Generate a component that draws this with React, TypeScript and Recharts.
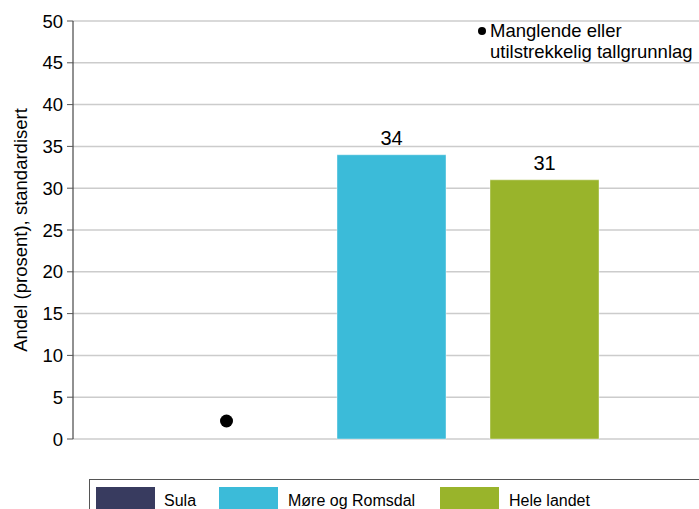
import { ComposedChart, Bar, Scatter, XAxis, YAxis, CartesianGrid, Cell, LabelList } from "recharts";

// kategorier og verdier lest av figuren (Sula: manglende tallgrunnlag)
const categories = ["Sula", "Møre og Romsdal", "Hele landet"];
const values: (number | null)[] = [null, 34, 31];
const missing = [true, false, false];
const colors = ["#383b5f", "#3bbbd9", "#99b42b"];
const yTicks = [0, 5, 10, 15, 20, 25, 30, 35, 40, 45, 50];

const data = categories.map((name, i) => ({
  name,
  value: values[i],
  marker: missing[i] ? 0 : null,
}));

const FONT = "'Liberation Sans', Arial, sans-serif";

const BarLabel = (props: any) => {
  const { x, y, width, value } = props;
  if (value == null) return null;
  return (
    <text x={x + width / 2} y={y - 9.5} textAnchor="middle" fontSize={20} fill="#000" fontFamily={FONT}>
      {value}
    </text>
  );
};

// svart prikk = manglende eller utilstrekkelig tallgrunnlag
const MissingDot = (props: any) => {
  const { cx, cy } = props;
  if (cx == null || cy == null) return null;
  return <circle cx={cx - 12} cy={cy - 18} r={6.5} fill="#000" />;
};

const YLabel = () => (
  <text
    x={20}
    y={230}
    transform="rotate(-90 20 230)"
    textAnchor="middle"
    dominantBaseline="central"
    fontSize={18.5}
    fill="#000"
    fontFamily={FONT}
  >
    Andel (prosent), standardisert
  </text>
);

const legendSwatchX = [6, 129, 350];
const legendTextX = [74, 198, 419];

export default function App() {
  return (
    <div style={{ position: "absolute", left: 0, top: 0, width: 699, height: 509, overflow: "hidden", background: "#fff" }}>
      <ComposedChart
        width={699}
        height={509}
        data={data}
        margin={{ top: 21, right: 0, bottom: 70, left: 0 }}
        barCategoryGap={22}
      >
        <CartesianGrid vertical={false} stroke="#cccccc" strokeWidth={1.5} />
        <XAxis
          dataKey="name"
          tick={false}
          tickLine={false}
          height={0}
          axisLine={{ stroke: "#555", strokeWidth: 1.5 }}
          padding={{ left: 89, right: 78 }}
        />
        <YAxis
          width={73}
          domain={[0, 50]}
          ticks={yTicks}
          interval={0}
          tick={{ fill: "#000", fontSize: 18.5, fontFamily: FONT }}
          tickLine={{ stroke: "#555" }}
          tickSize={6}
          tickMargin={4}
          axisLine={{ stroke: "#222" }}
          label={<YLabel />}
        />
        <Bar dataKey="value" isAnimationActive={false} stroke="rgba(255,255,255,0.4)">
          {data.map((d, i) => (
            <Cell key={d.name} fill={colors[i]} />
          ))}
          <LabelList dataKey="value" content={<BarLabel />} />
        </Bar>
        <Scatter dataKey="marker" isAnimationActive={false} shape={<MissingDot />} />
        <circle cx={482} cy={31} r={4} fill="#000" />
        <text x={490} y={37} fontSize={18.5} fill="#000" fontFamily={FONT}>
          Manglende eller
        </text>
        <text x={490} y={58} fontSize={18.5} fill="#000" fontFamily={FONT}>
          utilstrekkelig tallgrunnlag
        </text>
      </ComposedChart>
      <div
        style={{
          position: "absolute",
          left: 89,
          top: 479,
          width: 640,
          height: 44,
          border: "1px solid #555",
          boxSizing: "border-box",
          fontFamily: FONT,
          fontSize: 16,
          color: "#000",
          background: "#fff",
        }}
      >
        {categories.map((c, i) => (
          <div key={c}>
            <div
              style={{ position: "absolute", left: legendSwatchX[i], top: 7, width: 59, height: 24, background: colors[i] }}
            />
            <span style={{ position: "absolute", left: legendTextX[i], top: 11, lineHeight: "20px", whiteSpace: "nowrap" }}>
              {c}
            </span>
          </div>
        ))}
      </div>
    </div>
  );
}
